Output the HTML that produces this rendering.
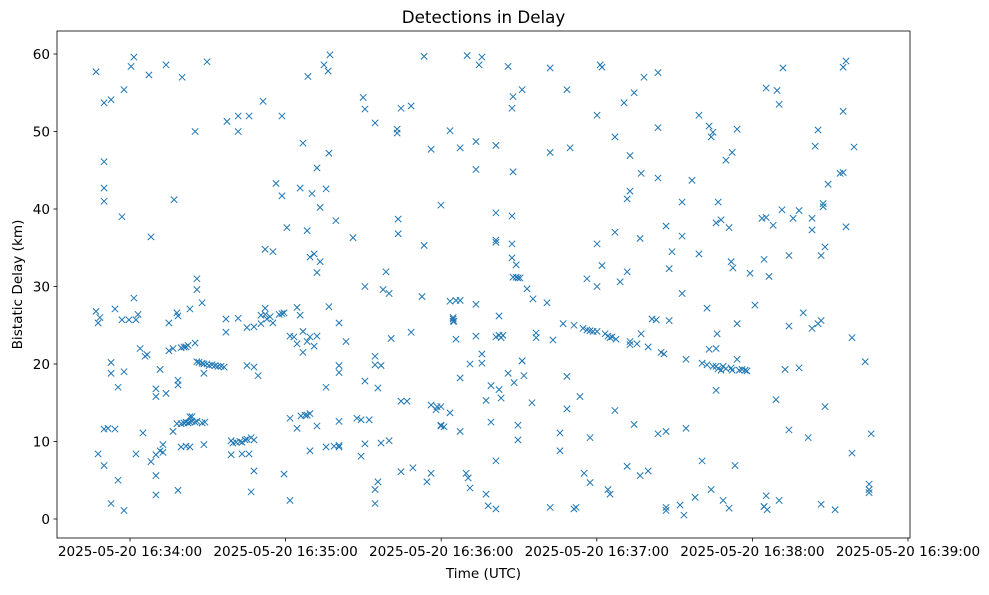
<!DOCTYPE html>
<html><head><meta charset="utf-8"><style>
body{margin:0;background:#fff;}
svg text{font-family:"DejaVu Sans","Liberation Sans",sans-serif;fill:#000;}
</style></head><body>
<svg id="chart" width="989" height="590" xmlns="http://www.w3.org/2000/svg"></svg>
<script>
const xTickLabels = ["2025-05-20 16:34:00","2025-05-20 16:35:00","2025-05-20 16:36:00","2025-05-20 16:37:00","2025-05-20 16:38:00","2025-05-20 16:39:00"];
const xTickSeconds = [0,60,120,180,240,300];
const yTicks = [0,10,20,30,40,50,60];
// seconds since 16:34:00 UTC
const times = [
-13.1,-13.1,-12.3,-12.3,-11.6,-10,-10,-10,-10,-10,-10,-8.5,-7.3,-7.3,-7.3,-7.3,-5.8,-5.8,-4.6,-4.6,-3.1,-3.1,-2.3,-2.3,-2.3,-0.4,0.4,1.5,1.5,2.3,2.3,3.1,3.9,5,5.8,6.6,7.3,8.1,8.1,
10,10,10,10,10,11.6,11.6,12.7,12.7,13.9,13.9,15,15,16.6,16.6,17,18.1,18.1,18.5,18.5,18.5,18.5,19.7,19.7,19.7,20.1,20.8,20.8,21.6,21.6,21.6,22.4,22.4,23.1,23.1,23.1,23.1,23.9,23.9,
25.1,25.1,25.1,25.8,25.8,25.8,25.8,26.6,27.8,27.8,27.8,28.5,28.5,28.5,28.9,29.7,29.7,30.5,31.6,32.8,33.9,35.1,36.3,37,37,37.4,39,39,39.7,40.9,41.7,41.7,41.7,42.4,43.2,43.2,44.4,45.1,45.1,45.1,45.9,45.9,46.7,46.7,47.8,47.8,47.8,47.8,49.4,
50.5,50.5,51.3,52.1,52.1,52.1,52.8,54,55.1,55.1,56.3,57.5,58.6,58.6,58.6,59.4,59.4,60.5,61.7,61.7,61.7,63.2,64.4,64.4,64.4,65.6,65.6,65.9,66.7,66.7,66.7,67.5,68.3,68.3,68.3,68.6,69.4,69.4,69.4,69.4,70.2,71,71,72.1,72.1,72.1,72.1,73.3,73.3,74.8,75.6,75.6,75.6,76.4,76.7,76.7,77.1,78.7,79.4,
80.6,80.6,80.6,80.6,80.6,80.6,83.3,86,87.5,89.1,89.1,89.9,90.6,90.6,90.6,90.6,92.2,94.5,94.5,94.5,94.5,94.5,95.6,95.6,96.8,96.8,97.6,98.7,99.9,99.9,100.7,103,103,103.4,103.4,104.5,104.5,104.5,106.8,108.4,108.4,109.1,112.6,113.4,113.4,114.5,116.1,116.1,116.1,118,118.4,119.9,119.9,119.9,119.9,121.1,
123.4,123.4,123.4,124.6,124.6,124.6,124.9,125.7,125.7,127.3,127.3,127.3,127.3,129.6,130,130.4,131.1,131.1,133.4,133.4,133.4,133.4,134.6,135.7,135.7,135.7,137.3,137.3,138.1,139.2,139.2,
141.1,141.1,141.1,141.1,141.1,141.1,141.1,142.3,142.3,142.3,143.1,143.1,143.8,145.8,145.8,147.3,147.3,147.3,147.3,147.7,147.7,147.7,148.1,148.9,148.9,149.6,149.6,149.6,150.4,151.2,151.2,151.2,151.9,153.1,155,155.4,156.6,156.6,
160.8,162,162,162,163.1,165.8,165.8,167,168.5,168.5,168.5,169.7,171.2,171.2,172,173.5,174.7,175.1,176.2,176.2,177.4,177.4,177.4,178.6,
180.1,180.1,180.1,180.1,181.3,182,182,183.2,184.3,184.3,185.1,185.1,185.9,187,187,187,187.4,189,190.5,191.7,191.7,191.7,192.8,192.8,192.8,192.8,194.4,194.4,195.5,196.7,196.7,197.1,197.1,198.2,199.8,199.8,
201.3,202.9,203.6,203.6,203.6,203.6,204.8,205.9,206.7,206.7,206.7,206.7,207.9,207.9,209,212.1,212.9,212.9,212.9,213.6,214.4,214.4,216.7,217.9,219.4,219.4,
220.6,220.6,222.5,222.5,223.3,223.3,224.1,224.1,224.8,224.8,226,226,226,226,226.4,226.8,226.8,227.9,227.9,228.7,228.7,229.8,229.8,231,231,231.8,231.8,232.2,232.2,232.5,233.3,234.1,234.1,234.1,234.9,236,237.2,237.9,239.1,
241,243.7,244.5,244.5,244.5,245.3,245.3,245.3,245.7,246.4,248,249.1,249.5,250.3,250.3,251.4,251.8,252.6,254.1,254.1,254.1,255.7,258,258,259.6,
261.5,263,263,263,264.2,265.3,265.3,266.5,266.5,266.5,267.3,267.3,268,268,269.2,271.9,273.8,275,275,275,276.1,276.1,278.4,278.4,279.2,283.5,285,285,285,285.8
];
// bistatic delay in km
const delays = [
57.7,26.8,25.3,8.4,26,53.7,46.1,42.7,41,11.6,6.9,11.7,54.1,20.2,18.8,2,11.6,27.1,17,5,39,25.7,55.4,19,1.1,25.7,58.4,59.6,28.5,25.7,8.4,26.4,22,11.1,21,21.2,57.3,36.4,7.4,
8.3,16.8,15.8,5.6,3.1,8.8,19.3,9.6,8.6,16.2,58.6,25.3,21.7,22,11.3,41.2,26.6,12.3,26.2,17.9,17.3,3.7,22.1,12.3,9.3,57,22.2,12.4,22.2,12.5,9.4,22.4,12.4,27.1,13.2,12.5,9.3,12.6,13.2,
50,22.7,12.5,31,29.6,20.3,12.6,20.2,27.9,20.1,12.4,18.8,9.6,20,12.5,20,59,19.8,19.9,19.8,19.7,19.7,19.6,24.1,25.8,51.3,10.1,8.3,9.8,9.9,52,50,25.9,10,9.9,8.4,10.2,24.7,19.8,10.3,52,8.4,3.5,10.5,19.6,24.8,6.2,10.2,18.5,
26.3,25.2,53.9,34.8,27.2,26.4,25.8,26.1,34.5,25.3,43.3,26.4,52,41.7,26.5,26.6,5.8,37.6,23.6,2.4,13,23.5,27.3,11.7,22.6,42.7,26.3,13.3,48.5,24.2,21.5,13.4,37.2,13.4,22.9,57.1,33.8,13.6,8.8,23.5,42,22.3,34.2,45.3,31.8,23.6,12,40.2,33.2,58.6,42.6,17,9.3,57.8,47.2,27.4,59.9,9.4,38.5,
25.3,19.8,18.9,12.6,9.3,9.5,22.9,36.3,13,12.8,8.1,54.4,52.9,30,17.8,9.7,12.8,51.1,21,19.9,3.8,2,16.9,4.8,19.8,9.8,29.6,31.9,29.1,10.1,23.3,49.8,50.3,38.7,36.8,53,15.2,6.1,15.2,53.3,24.1,6.6,28.7,59.7,35.3,4.8,47.7,14.7,5.9,14.1,14.5,40.5,14.5,12.1,12,11.9,
50.1,13.7,28.1,26,25.5,25.8,25.5,28.2,23.2,47.9,18.2,11.3,28.2,5.9,59.8,5.3,4,20,45.1,48.7,27.7,23.6,58.6,59.6,21.3,20.1,3.2,15.3,1.7,12.5,17.2,
48.2,39.5,36,35.7,23.5,7.5,1.3,26.2,23.7,16.7,23.4,15.6,23.7,58.4,18.8,53,39.1,35.5,33.7,54.5,44.8,31.2,17.6,32.8,31.2,31.1,10.2,12.1,31.1,55.4,20.4,20.4,18.5,29.7,15,28.4,24,23.4,
27.9,58.2,47.3,1.5,23.1,8.8,11.1,25.2,55.4,18.4,14.2,47.9,25,1.3,1.5,15.8,24.6,5.9,31,24.4,10.5,4.7,24.3,24.2,
52.1,35.5,30,24.2,58.6,32.7,58.3,23.9,3.8,23.6,23.4,3.2,23.5,37,49.3,14,23.2,30.6,53.7,31.9,41.3,6.8,46.9,42.3,22.9,22.5,55,12.2,22.6,36.2,5.6,44.6,23.9,57,6.2,22.2,
25.8,25.7,57.6,50.5,44,11,21.5,21.3,1.5,1.1,11.3,37.8,32.3,25.6,34.5,1.8,29.1,40.9,36.5,0.5,20.6,11.7,43.7,2.8,34.2,52.1,
7.5,20.1,19.9,27.2,21.9,50.7,49.3,3.8,49.9,19.7,38.2,19.7,16.6,22,23.9,40.9,19.4,38.6,19.2,2.4,19.7,46.3,19.4,37.6,1.4,33.2,19.5,47.3,19.2,32.4,6.9,50.3,25.2,20.6,19.2,19.3,19.2,19.1,31.7,
27.6,38.8,33.5,1.6,1.6,38.9,55.6,3,1.2,31.3,37.9,15.4,55.3,2.4,53.5,39.9,58.2,19.3,34,24.9,11.5,38.8,39.8,19.5,26.6,
10.5,38.8,24.6,37.3,48.1,50.2,25.2,34,25.6,1.9,40.3,40.7,35.1,14.5,43.2,1.2,44.6,52.6,44.7,58.3,59.1,37.7,23.4,8.5,48,20.3,4.5,3.8,3.4,11
];

const NS="http://www.w3.org/2000/svg";
const svg=document.getElementById('chart');
const L=57,R=910,T=31,B=538;
function xScale(t){return 130+t*(778/300);}
function yScale(v){return 519-v*(465/60);}
function mk(tag,attrs,parent){const e=document.createElementNS(NS,tag);for(const k in attrs)e.setAttribute(k,attrs[k]);(parent||svg).appendChild(e);return e;}

const title=mk('text',{x:(L+R)/2,y:23,'text-anchor':'middle','font-size':16.7});
title.textContent='Detections in Delay';



const pts=mk('g',{stroke:'#1f77b4','stroke-width':1,fill:'none'});


for(let i=0;i<times.length;i++){
  const x=xScale(times[i]),y=yScale(delays[i]),s=3.2;
  const p=mk('path',{d:`M${x-s},${y-s}L${x+s},${y+s}M${x-s},${y+s}L${x+s},${y-s}`},pts);
  
  
}

const frame=mk('rect',{x:L,y:T,width:R-L,height:B-T,fill:'none',stroke:'#000','stroke-width':0.8});



for(let i=0;i<yTicks.length;i++){
  const y=yScale(yTicks[i]);
  mk('line',{x1:L-3.5,x2:L,y1:y,y2:y,stroke:'#000','stroke-width':0.8});
  const t=mk('text',{x:L-7,y:y+5,'text-anchor':'end','font-size':13.6});
  t.textContent=yTicks[i];
  
  
}
for(let i=0;i<xTickSeconds.length;i++){
  const x=xScale(xTickSeconds[i]);
  mk('line',{x1:x,x2:x,y1:B,y2:B+3.5,stroke:'#000','stroke-width':0.8});
  const t=mk('text',{x:x,y:B+18,'text-anchor':'middle','font-size':13.6});
  t.textContent=xTickLabels[i];
  
  
}
const xl=mk('text',{x:(L+R)/2,y:578,'text-anchor':'middle','font-size':13.6});
xl.textContent='Time (UTC)';


const yl=mk('text',{x:0,y:0,'text-anchor':'middle','font-size':13.6,transform:`translate(22,${(T+B)/2}) rotate(-90)`});
yl.textContent='Bistatic Delay (km)';


</script>
</body></html>
